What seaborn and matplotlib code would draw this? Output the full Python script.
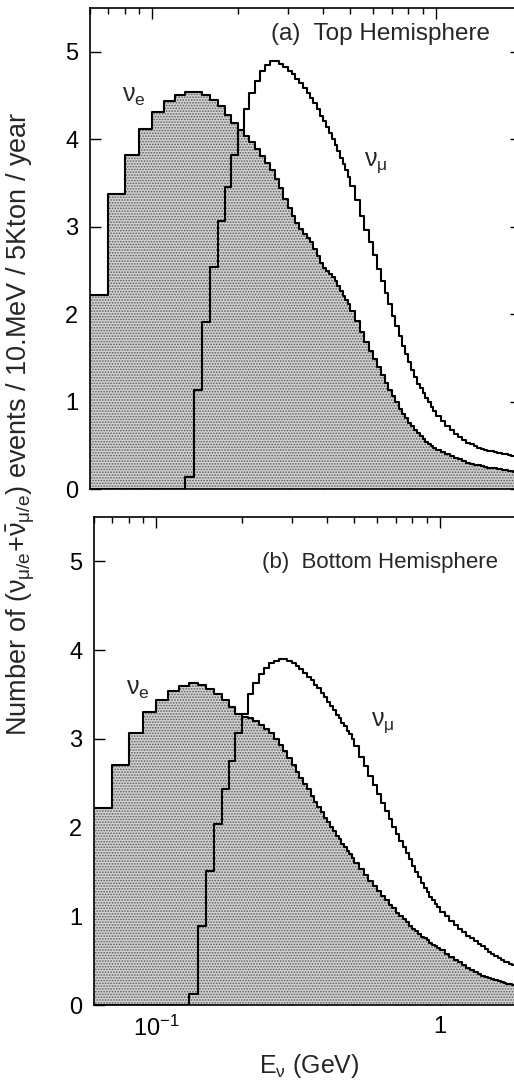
import numpy as np
import pandas as pd
import matplotlib
matplotlib.use("Agg")
import matplotlib.pyplot as plt
from matplotlib.ticker import LogLocator, NullLocator, NullFormatter
import seaborn as sns

# ---------------- data (events / 10 MeV / 5 kton / year) ----------------
# energy bin edges in GeV: 10 MeV bins to 0.5 GeV, 20 MeV to 1 GeV, 40 MeV to 2 GeV
energy_edges = np.concatenate([
    np.round(np.arange(0.06, 0.505, 0.01), 2),
    np.round(np.arange(0.52, 1.005, 0.02), 2),
    np.round(np.arange(1.04, 2.005, 0.04), 2),
])

top_nue = [
    2.22, 3.37, 3.82, 4.12, 4.31, 4.44, 4.51, 4.54, 4.54, 4.51, 4.45, 4.38, 4.28, 4.18,
    4.10, 4.04, 3.97, 3.89, 3.81, 3.73, 3.65, 3.55, 3.44, 3.32,
    3.21, 3.12, 3.04, 2.97, 2.92, 2.87, 2.82, 2.74, 2.66, 2.58,
    2.53, 2.49, 2.46, 2.42, 2.38, 2.32, 2.26, 2.21, 2.16, 2.11,
    2.03, 1.92, 1.80, 1.68, 1.58, 1.49, 1.39, 1.30, 1.21, 1.13, 1.06, 0.99, 0.92,
    0.86, 0.81, 0.76, 0.72, 0.68, 0.64, 0.61, 0.57, 0.54, 0.52, 0.49, 0.47,
    0.45, 0.42, 0.40, 0.38, 0.36, 0.34, 0.32, 0.30, 0.29, 0.28, 0.27, 0.26, 0.25,
    0.245, 0.24, 0.235, 0.23, 0.225, 0.22, 0.215, 0.21, 0.205, 0.20, 0.195, 0.19,
]
top_numu = [
    0, 0, 0, 0, 0, 0, 0, 0.14, 1.13, 1.91, 2.54, 3.06, 3.45, 3.82,
    4.10, 4.35, 4.53, 4.67, 4.78, 4.85, 4.89, 4.89, 4.86, 4.82,
    4.78, 4.74, 4.69, 4.64, 4.59, 4.53, 4.47, 4.41, 4.34, 4.27,
    4.21, 4.14, 4.07, 4.00, 3.93, 3.86, 3.79, 3.72, 3.65, 3.57,
    3.46, 3.30, 3.12, 2.96, 2.82, 2.68, 2.52, 2.38, 2.24, 2.11, 1.98, 1.86, 1.75,
    1.64, 1.54, 1.45, 1.36, 1.28, 1.20, 1.15, 1.10, 1.04, 0.99, 0.94, 0.89,
    0.84, 0.78, 0.72, 0.67, 0.63, 0.59, 0.56, 0.53, 0.51, 0.49, 0.47, 0.46, 0.45,
    0.44, 0.43, 0.42, 0.415, 0.41, 0.40, 0.395, 0.39, 0.38, 0.375, 0.37, 0.365,
]
bottom_nue = [
    2.22, 2.71, 3.06, 3.30, 3.44, 3.54, 3.60, 3.63, 3.61, 3.56, 3.51, 3.44, 3.36, 3.28,
    3.25, 3.23, 3.20, 3.16, 3.11, 3.06, 3.00, 2.93, 2.86, 2.78,
    2.71, 2.63, 2.56, 2.49, 2.43, 2.36, 2.29, 2.23, 2.17, 2.11,
    2.06, 2.01, 1.96, 1.91, 1.87, 1.82, 1.78, 1.74, 1.70, 1.66,
    1.60, 1.53, 1.46, 1.40, 1.34, 1.29, 1.23, 1.18, 1.13, 1.09, 1.04, 1.00, 0.97,
    0.93, 0.89, 0.86, 0.83, 0.80, 0.77, 0.75, 0.73, 0.70, 0.68, 0.66, 0.64,
    0.62, 0.58, 0.54, 0.51, 0.48, 0.45, 0.42, 0.40, 0.37, 0.35, 0.33, 0.31, 0.30,
    0.29, 0.28, 0.27, 0.26, 0.25, 0.24, 0.235, 0.23, 0.225, 0.22, 0.215, 0.21,
]
bottom_numu = [
    0, 0, 0, 0, 0, 0, 0, 0.12, 0.89, 1.51, 2.04, 2.43, 2.75, 3.06,
    3.28, 3.50, 3.63, 3.73, 3.80, 3.85, 3.88, 3.90, 3.90, 3.88,
    3.85, 3.82, 3.79, 3.74, 3.70, 3.66, 3.61, 3.57, 3.52, 3.47,
    3.42, 3.37, 3.32, 3.27, 3.23, 3.18, 3.14, 3.09, 3.05, 3.00,
    2.92, 2.80, 2.69, 2.58, 2.48, 2.38, 2.28, 2.19, 2.10, 2.01, 1.93, 1.85, 1.78,
    1.71, 1.64, 1.57, 1.50, 1.44, 1.38, 1.32, 1.27, 1.22, 1.18, 1.14, 1.10,
    1.05, 1.00, 0.95, 0.90, 0.86, 0.82, 0.78, 0.75, 0.72, 0.69, 0.66, 0.63, 0.60,
    0.57, 0.55, 0.53, 0.51, 0.49, 0.48, 0.46, 0.45, 0.44, 0.43, 0.42, 0.41,
]

panel_titles = ["(a)  Top Hemisphere", "(b)  Bottom Hemisphere"]
y_ticks = [0, 1, 2, 3, 4, 5]
x_major = [0.1, 1.0]
x_major_labels = [r"$\mathregular{10^{-1}}$", "1"]

# ---------------- style ----------------
sns.set_theme(style="ticks")
plt.rcParams["font.family"] = ["Liberation Sans", "DejaVu Sans"]
plt.rcParams["mathtext.fontset"] = "custom"
plt.rcParams["mathtext.rm"] = "Liberation Sans"
plt.rcParams["mathtext.it"] = "Liberation Sans"
plt.rcParams["mathtext.sf"] = "Liberation Sans"
plt.rcParams["hatch.linewidth"] = 0.8

W, H = 514, 1083
fig = plt.figure(figsize=(W / 100, H / 100), dpi=100)
fig.patch.set_facecolor("white")

def px_axes(left, right, top, bottom):
    return fig.add_axes([left / W, 1 - bottom / H, (right - left) / W, (bottom - top) / H])

ax_top = px_axes(89.5, 521, 8, 489)
ax_bot = px_axes(93.5, 525, 517, 1005)

log_edges = [float(v) for v in np.log10(energy_edges)]
centers = np.sqrt(energy_edges[:-1] * energy_edges[1:])

def draw(ax, nue, numu, title, title_size, labels_bottom, lab_e, lab_mu, title_pos):
    df = pd.DataFrame({"E": centers, "nue": nue, "numu": numu})
    sns.histplot(data=df, x="E", weights="nue", bins=log_edges, log_scale=True,
                 element="step", fill=True, facecolor="#d2d2d2", edgecolor="#5a5a5a",
                 alpha=1.0, linewidth=0, hatch="......", ax=ax)
    sns.histplot(data=df, x="E", weights="nue", bins=log_edges, log_scale=True,
                 element="step", fill=False, color="black", linewidth=1.5, ax=ax)
    sns.histplot(data=df, x="E", weights="numu", bins=log_edges, log_scale=True,
                 element="step", fill=False, color="black", linewidth=1.5, ax=ax)
    ax.set_xlim(0.06, 2.0)
    ax.set_ylim(0, 5.5)
    ax.set_xlabel("")
    ax.set_ylabel("")
    ax.set_yticks(y_ticks)
    ax.yaxis.set_minor_locator(NullLocator())
    ax.set_xticks(x_major)
    ax.set_xticklabels(x_major_labels if labels_bottom else ["", ""])
    ax.xaxis.set_minor_locator(LogLocator(base=10, subs=np.arange(2, 10)))
    ax.xaxis.set_minor_formatter(NullFormatter())
    ax.tick_params(axis="both", which="both", direction="in", top=True, right=True,
                   width=1.0, colors="black", labelsize=17)
    ax.tick_params(axis="both", which="major", length=8, pad=8)
    ax.tick_params(axis="both", which="minor", length=4)
    ax.tick_params(axis="x", labelbottom=labels_bottom)
    for s in ax.spines.values():
        s.set_linewidth(1.2)
        s.set_color("black")
    ax.text(title_pos[0], title_pos[1], title, fontsize=title_size, ha="left", va="baseline")
    ax.text(lab_e[0], lab_e[1], r"$\nu_\mathregular{e}$", fontsize=18, ha="left", va="baseline")
    ax.text(lab_mu[0], lab_mu[1], r"$\nu_\mu$", fontsize=18, ha="left", va="baseline")

draw(ax_top, top_nue, top_numu, panel_titles[0], 17.5, False, (0.078, 4.43), (0.56, 3.70), (0.262, 5.13))
draw(ax_bot, bottom_nue, bottom_numu, panel_titles[1], 16.0, True, (0.078, 3.50), (0.57, 3.15), (0.236, 4.93))

ax_bot.set_xlabel(r"E$_\nu$ (GeV)", fontsize=18, labelpad=8)

fig.text(0.041, 0.609,
         r"Number of ($\nu_{\mu/e}$+$\bar{\nu}_{\mu/e}$) events / 10.MeV / 5Kton / year",
         rotation=90, ha="center", va="center", fontsize=19.5)

fig.savefig("out.png", dpi=100, facecolor="white")
